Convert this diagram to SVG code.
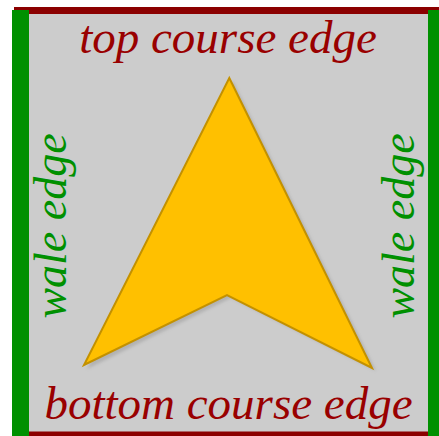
<svg xmlns="http://www.w3.org/2000/svg" width="439" height="436" viewBox="0 0 439 436">
<defs>
<style>
.lbl{font-family:"Liberation Serif","Times New Roman",serif;font-style:italic;text-anchor:middle}
.course{fill:#990000;font-size:47px}
.wale{fill:#009000;font-size:46px}
</style>
<filter id="sh" x="-20%" y="-20%" width="140%" height="140%"><feGaussianBlur stdDeviation="1.5"/></filter>
</defs>
<g id="fabric">
<rect x="12" y="10.5" width="430" height="424" fill="#cccccc"/>
<line x1="14" y1="10.5" x2="445" y2="10.5" stroke="#8b0000" stroke-width="7"/>
<line x1="14" y1="435" x2="445" y2="435" stroke="#8b0000" stroke-width="7"/>
<line x1="20.5" y1="10" x2="20.5" y2="440" stroke="#009000" stroke-width="17"/>
<line x1="436.5" y1="10" x2="436.5" y2="440" stroke="#009000" stroke-width="17"/>
</g>
<g id="arrow">
<polygon points="233,81 376,371 231,298 87,369" fill="#999" opacity="0.5" filter="url(#sh)"/>
<polygon points="229.3,78 372,368 227,295 84,365" fill="#ffc000" stroke="#c39100" stroke-width="2" stroke-linejoin="miter"/>
</g>
<g id="labels">
<text class="lbl course" x="228" y="53">top course edge</text>
<text class="lbl course" x="228.5" y="419">bottom course edge</text>
<text class="lbl wale" transform="translate(66,226) rotate(-90)">wale edge</text>
<text class="lbl wale" transform="translate(414,226) rotate(-90)">wale edge</text>
</g>
</svg>
